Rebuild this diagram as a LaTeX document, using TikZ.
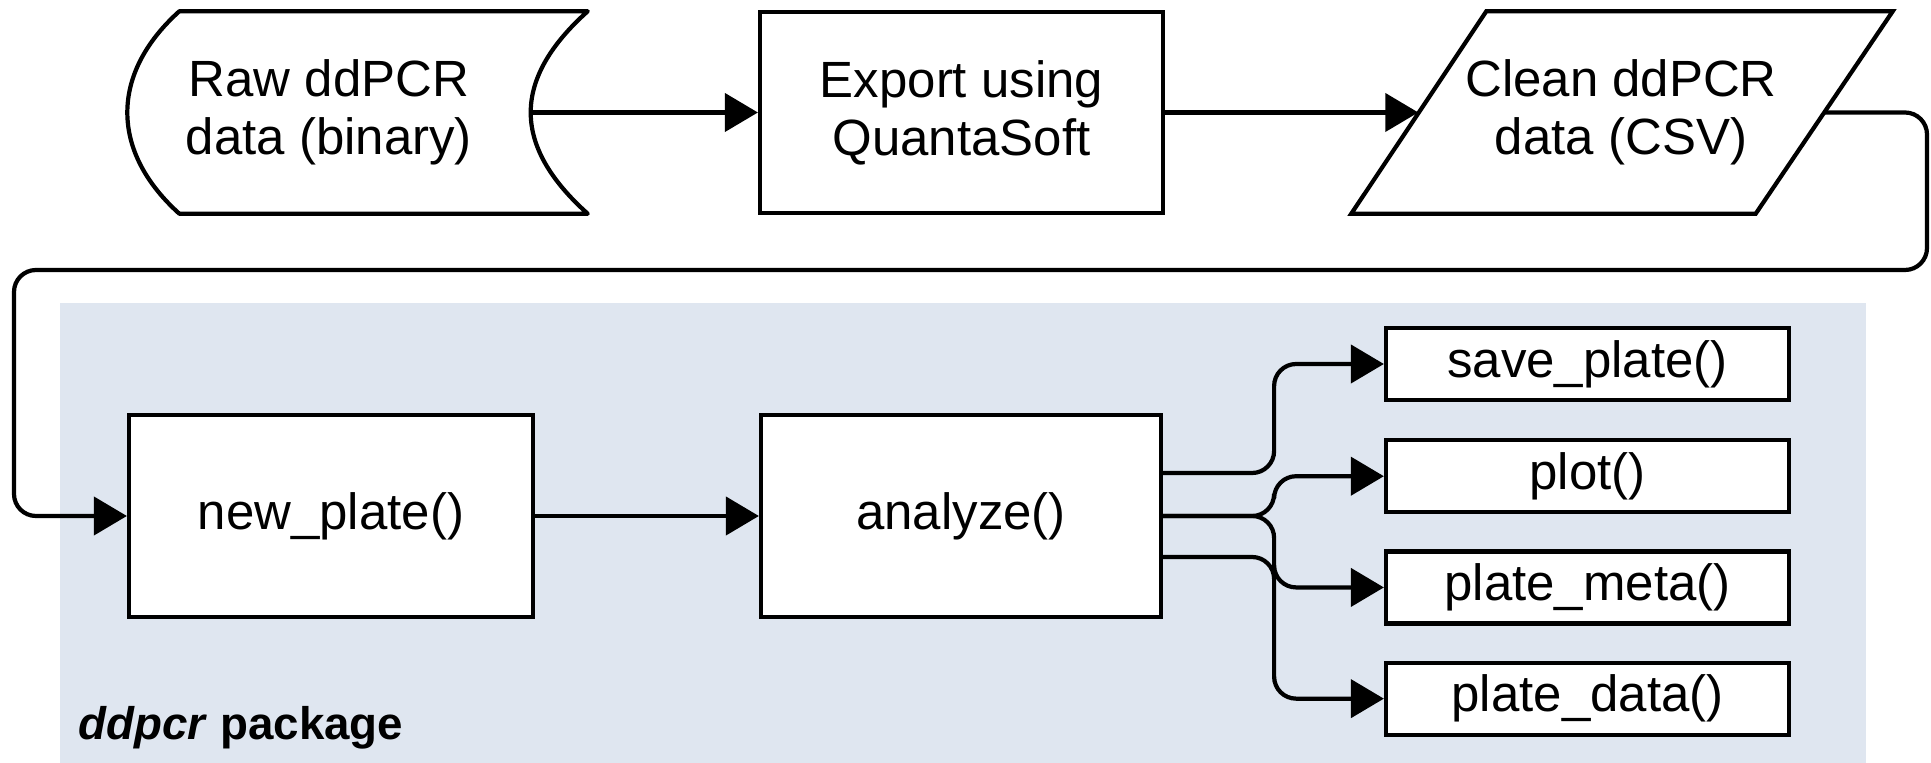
\documentclass[tikz,border=0pt]{standalone}
\usepackage{fontspec}
\setmainfont{Liberation Sans}
\usepackage{tikz}
\usetikzlibrary{arrows.meta,positioning,calc}
\definecolor{fondpkg}{RGB}{223,230,240}
\tikzstyle{texte}=[align=center, inner sep=0pt, font=\fontsize{14.5}{16.5}\selectfont]
\tikzstyle{bloc}=[texte, draw, line width=1.2pt, fill=white]
\tikzstyle{petit}=[bloc, minimum width=4.03cm, minimum height=0.72cm]
\tikzstyle{fleche}=[-{Triangle[length=0.33cm,width=0.38cm]}, line width=1.2pt, rounded corners=0.22cm]

\begin{document}
\begin{tikzpicture}
\useasboundingbox (0,0) rectangle (19.31,-7.63);

% package
\fill[fondpkg] (0.60,-3.03) rectangle (18.66,-7.63);
\node[anchor=base west, inner sep=0pt, font=\fontsize{13}{15}\selectfont\bfseries] (pkg) at (0.78,-7.40) {\textit{ddpcr} package};

% ligne du haut
\node[texte, minimum width=4.02cm, minimum height=2.01cm] (raw) at (3.29,-1.125) {Raw ddPCR\\data (binary)};
\coordinate (rawHG) at ($(raw.north west)+(0.52,0)$);
\coordinate (rawBG) at ($(raw.south west)+(0.52,0)$);
\coordinate (rawHD) at ($(raw.north east)+(0.57,0)$);
\coordinate (rawBD) at ($(raw.south east)+(0.57,0)$);
\draw[line width=1.2pt, line join=round] (rawHG) -- (rawHD)
  .. controls ($(rawHD)+(-0.76,-0.68)$) and ($(rawBD)+(-0.76,0.68)$) .. (rawBD)
  -- (rawBG)
  .. controls ($(rawBG)+(-0.693,0.624)$) and ($(rawHG)+(-0.693,-0.624)$) .. (rawHG) -- cycle;

\node[bloc, minimum width=4.03cm, minimum height=2.01cm] (export) at (9.615,-1.125) {Export using\\QuantaSoft};

\node[texte, minimum width=4.04cm, minimum height=2.01cm] (clean) at (16.21,-1.125) {Clean ddPCR\\data (CSV)};
\draw[line width=1.2pt] ($(clean.south west)+(-0.67,0)$) -- ($(clean.north west)+(0.68,0)$) -- ($(clean.north east)+(0.69,0)$) -- ($(clean.south east)+(-0.68,0)$) -- cycle;

% ligne du bas
\node[bloc, minimum width=4.04cm, minimum height=2.02cm] (newplate) at (3.31,-5.16) {new\_plate()};
\node[bloc, minimum width=4.00cm, minimum height=2.02cm] (analyze) at (9.61,-5.16) {analyze()};

\node[petit] (save) at (15.875,-3.64) {save\_plate()};
\node[petit, below=0.36cm of save] (plot) {plot()};
\node[petit, below=0.35cm of plot] (meta) {plate\_meta()};
\node[petit, below=0.35cm of meta] (data) {plate\_data()};

% fleches
\draw[fleche] (raw.east) -- (export.west);
\draw[fleche] (export.east) -- (clean.west);

\coordinate (coinD) at (19.27,-2.70);
\coordinate (coinG) at (0.14,-2.70);
\draw[fleche] (clean.east) -| (coinD) -- (coinG) |- (newplate.west);

\draw[fleche] (newplate.east) -- (analyze.west);

\draw[fleche] ($(analyze.east)+(0,0.43)$) -- ++(1.11,0) |- (save.west);
\draw[fleche] (analyze.east) -- ++(1.11,0) |- (plot.west);
\draw[fleche] (analyze.east) -- ++(1.11,0) |- (meta.west);
\draw[fleche] ($(analyze.east)+(0,-0.41)$) -- ++(1.11,0) |- (data.west);

\end{tikzpicture}
\end{document}
